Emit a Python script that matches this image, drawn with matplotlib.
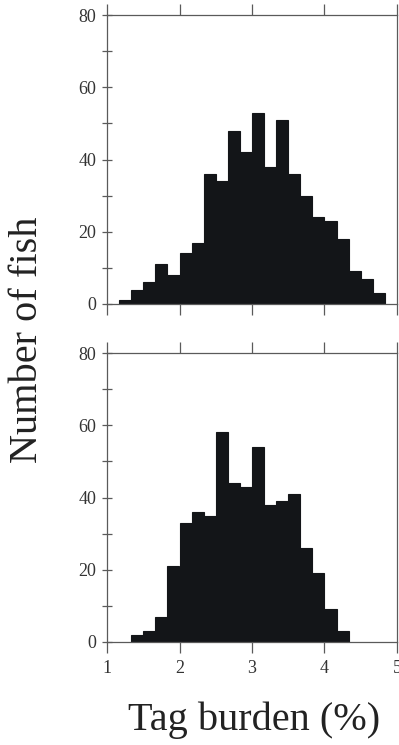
#!/usr/bin/env python3
"""Tag burden histograms, two panels sharing a y label."""

import matplotlib
matplotlib.use("Agg")
import matplotlib.pyplot as plt
from matplotlib.ticker import MultipleLocator

BIN_WIDTH = 1 / 6

# upper panel: counts per bin, first bin starts at 1 + 1/6
top_start = 1 + 1 / 6
top_counts = [1, 4, 6, 11, 8, 14, 17, 36, 34, 48, 42, 53,
              38, 51, 36, 30, 24, 23, 18, 9, 7, 3]

# lower panel: counts per bin, first bin starts at 1 + 2/6
bottom_start = 1 + 2 / 6
bottom_counts = [2, 3, 7, 21, 33, 36, 35, 58, 44, 43, 54,
                 38, 39, 41, 26, 19, 9, 3]

x_ticks = [1, 2, 3, 4, 5]
y_ticks = [0, 20, 40, 60, 80]

BAR_COLOR = "#131518"
SPINE_COLOR = "#5a5a5a"

plt.rcParams["font.family"] = ["Liberation Serif", "DejaVu Serif"]

fig = plt.figure(figsize=(3.99, 7.45), dpi=100)
W, H = 399, 745
ax_top = fig.add_axes([107 / W, 1 - 304 / H, 290 / W, 289 / H])
ax_bot = fig.add_axes([107 / W, 1 - 642 / H, 290 / W, 289 / H])


def draw_panel(ax, start, counts, show_xlabels):
    lefts = [start + i * BIN_WIDTH for i in range(len(counts))]
    ax.bar(lefts, counts, width=BIN_WIDTH, align="edge", color=BAR_COLOR,
           edgecolor=BAR_COLOR, linewidth=0.8)
    ax.set_xlim(1, 5)
    ax.set_ylim(0, 80)
    ax.set_xticks(x_ticks)
    ax.set_yticks(y_ticks)
    ax.yaxis.set_minor_locator(MultipleLocator(10))
    for side in ax.spines.values():
        side.set_color(SPINE_COLOR)
        side.set_linewidth(0.9)
    ax.tick_params(axis="x", which="major", direction="out", length=8,
                   width=0.9, color=SPINE_COLOR, top=True, labelsize=13,
                   pad=5, labelbottom=show_xlabels, labelcolor="#333333")
    ax.tick_params(axis="y", which="both", direction="inout", length=7,
                   width=0.9, color=SPINE_COLOR, labelsize=13, pad=4,
                   labelcolor="#333333")


draw_panel(ax_top, top_start, top_counts, False)
draw_panel(ax_bot, bottom_start, bottom_counts, True)

fig.text(28 / W, 1 - 340 / H, "Number of fish", rotation=90, ha="center",
         va="center", fontsize=29, color="#222222")
fig.text(254 / W, 1 - 720 / H, "Tag burden (%)", ha="center", va="center",
         fontsize=29, color="#222222")

fig.savefig("out.png", dpi=100, facecolor="white")
